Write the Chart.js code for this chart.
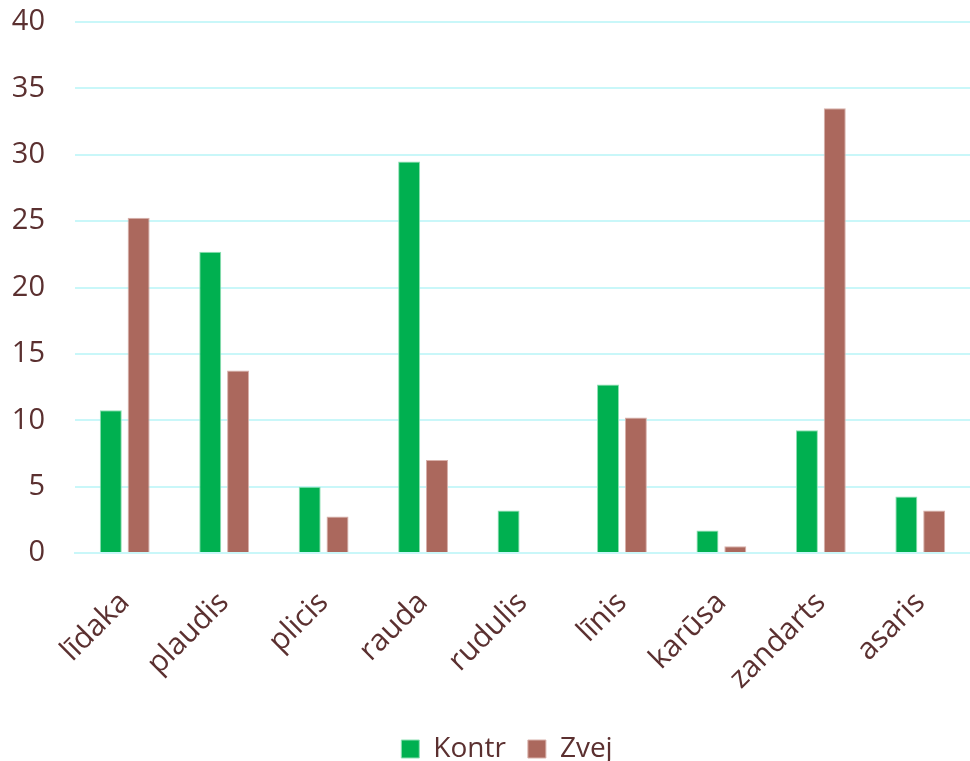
<!DOCTYPE html>
<html>
<head>
<meta charset="utf-8">
<script src="https://cdn.jsdelivr.net/npm/chart.js@4.4.0/dist/chart.umd.min.js"></script>
<style>
    html, body { margin: 0; padding: 0; background: #fff; }
    #wrap { width: 970px; height: 761px; }
</style>
</head>
<body>
<div id="wrap"><canvas id="fishChart"></canvas></div>
<script>
const categories = ['līdaka', 'plaudis', 'plicis', 'rauda', 'rudulis', 'līnis', 'karūsa', 'zandarts', 'asaris'];
const kontrValues = [10.75, 22.7, 5.0, 29.5, 3.2, 12.7, 1.7, 9.25, 4.25];
const zvejValues = [25.25, 13.75, 2.75, 7.0, 0, 10.2, 0.5, 33.5, 3.2];

const textColor = '#5b3030';
const gridColor = '#c9f7f9';

// legenda nedaudz pa labi, kā oriģinālā
const legendShift = {
    id: 'legendShift',
    afterLayout(chart) {
        chart.legend.left += 22;
        chart.legend.right += 22;
    }
};

const ctx = document.getElementById('fishChart').getContext('2d');
new Chart(ctx, {
    type: 'bar',
    data: {
        labels: categories,
        datasets: [{
            label: 'Kontr',
            data: kontrValues,
            backgroundColor: '#00b050',
            borderColor: '#8fe0b4',
            borderWidth: 1
        }, {
            label: 'Zvej',
            data: zvejValues,
            backgroundColor: '#ab685d',
            borderColor: '#d8b0aa',
            borderWidth: 1
        }]
    },
    plugins: [legendShift],
    options: {
        responsive: true,
        maintainAspectRatio: false,
        animation: false,
        datasets: {
            bar: { categoryPercentage: 0.56, barPercentage: 0.79 }
        },
        layout: { padding: { left: 0, right: 0, top: 0, bottom: -12 } },
        scales: {
            x: {
                grid: { display: false },
                border: { color: gridColor, width: 2 },
                ticks: {
                    color: textColor,
                    font: { family: 'Open Sans', size: 30 },
                    maxRotation: 45,
                    minRotation: 45,
                    padding: 24
                },
                afterFit: function (scale) {
                    scale.paddingLeft = 0;
                    scale.paddingRight = 0;
                    scale.height = 160;
                }
            },
            y: {
                min: 0,
                max: 40,
                ticks: {
                    stepSize: 5,
                    color: textColor,
                    font: { family: 'Open Sans', size: 29 },
                    padding: 30
                },
                grid: { color: gridColor, lineWidth: 2, drawTicks: false },
                border: { display: false },
                afterFit: function (scale) {
                    scale.width = 75;
                    scale.paddingTop = 22;
                }
            }
        },
        plugins: {
            legend: {
                position: 'bottom',
                labels: {
                    color: textColor,
                    font: { family: 'Open Sans', size: 28 },
                    boxWidth: 18,
                    boxHeight: 18,
                    padding: 22
                }
            },
            tooltip: { enabled: false }
        }
    }
});
</script>
</body>
</html>
